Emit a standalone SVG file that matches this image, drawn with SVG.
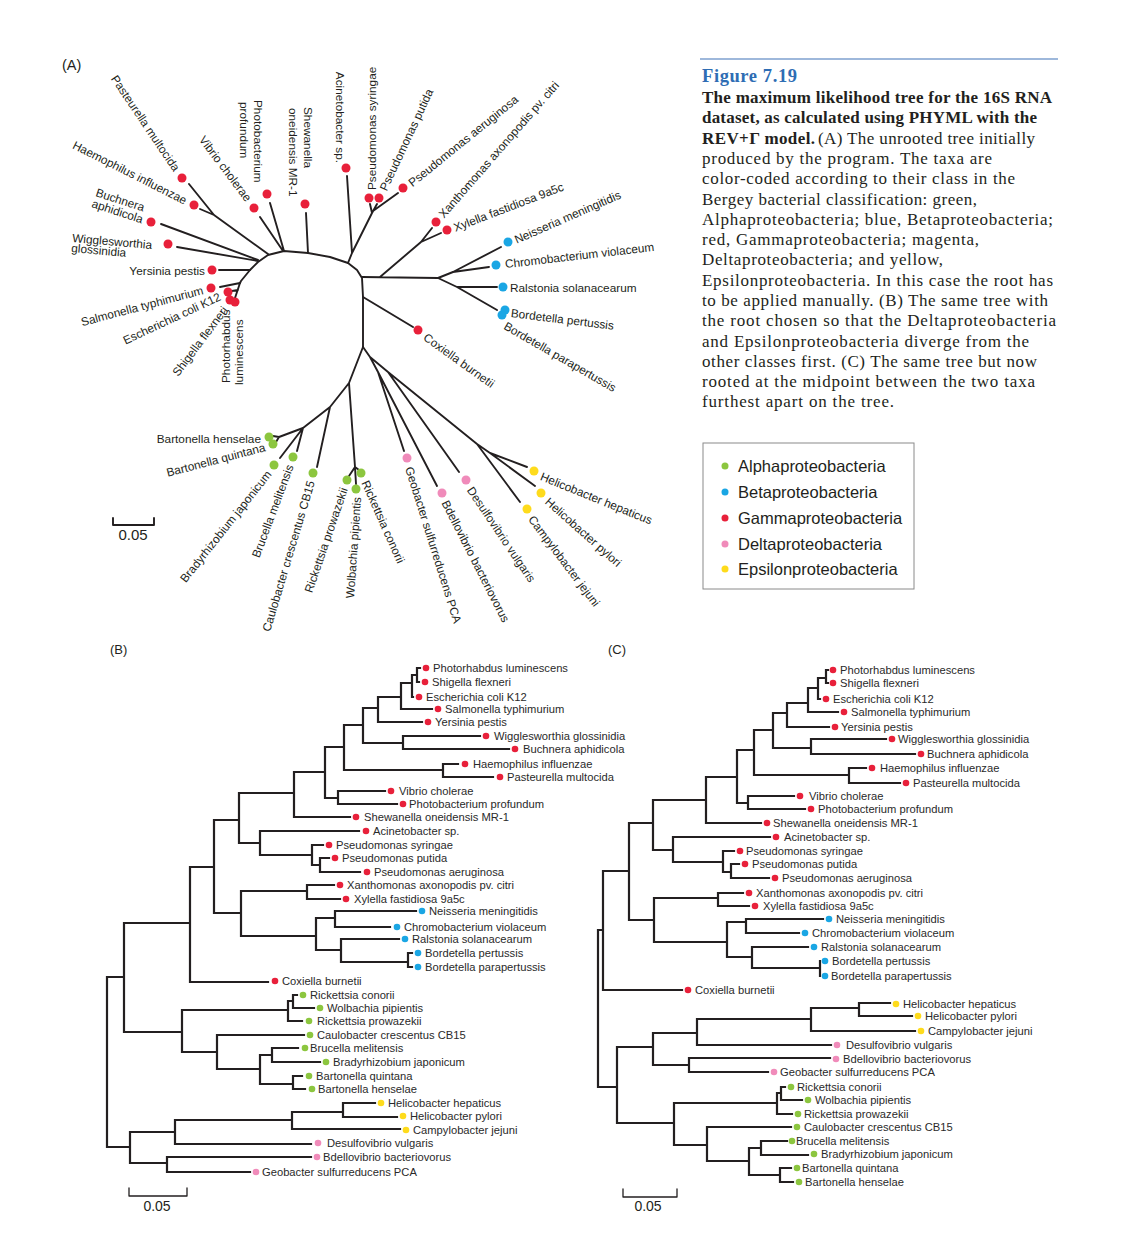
<svg xmlns="http://www.w3.org/2000/svg" width="1132" height="1240" viewBox="0 0 1132 1240">
<style>
.e{fill:none;stroke:#231f20;stroke-width:2.2;stroke-linecap:square}
.ea{fill:none;stroke:#231f20;stroke-width:1.9;stroke-linecap:round;stroke-linejoin:round}
.t{font-family:"Liberation Sans",Arial,sans-serif;font-size:11.2px;fill:#2a2a2a}
.ta{font-family:"Liberation Sans",Arial,sans-serif;font-size:11.8px;fill:#231f20}
.pl{font-family:"Liberation Sans",Arial,sans-serif;font-size:14px;fill:#231f20}
.lg{font-family:"Liberation Sans",Arial,sans-serif;font-size:16.5px;fill:#231f20}
.cb{font-family:"Liberation Serif","Times New Roman",serif;font-size:17px;font-weight:bold;fill:#231f20}
.cr{font-family:"Liberation Serif","Times New Roman",serif;font-size:17px;fill:#231f20}
.ti{font-family:"Liberation Serif","Times New Roman",serif;font-size:18.5px;font-weight:bold;fill:#2e6db4}
.r{fill:#e8203a}.b{fill:#1aa6e4}.g{fill:#8cc63f}.p{fill:#f08bba}.y{fill:#fedb1c}
</style>

<!-- ================= PANEL A ================= -->
<text class="pl" x="62" y="70" style="font-size:14.5px">(A)</text>
<g id="a-connectors">
<path class="ea" d="M240,283 L241,281 L250,270 L258,262 L268,255 L284,251 L308,253 L330,257 L348,263 L357,270 L362,278 L363,297 L363,347"/>
<path class="ea" d="M240,283 L220,287 M240,283 L235,298 M238,290 L232,291 M250,270 L219,270 M258,260 L161,224 M258,261 L177,247 M268,254 L214,215 L189,184 M214,215 L200,209 M283,251 L260,217 M284,251 L270,203 M308,253 L306,213"/>
<path class="ea" d="M348,263 L352,253 L347,176 M352,253 L372,213 M372,213 L370,204 M372,213 L377,204 M373,211 L398,193"/>
<path class="ea" d="M380,277 L421,242 L432,228 M421,242 L441,233 M362,277 L438,278 M438,278 L453,272 L501,247 M453,272 L489,267 M438,278 L457,287 L497,287 M457,287 L497,310 M363,297 L413,327"/>
<path class="ea" d="M363,347 L349,383 L355,467 M355,467 L359,470 M355,467 L356,484 M355,467 L349,476 M349,383 L330,407 L303,428 L279,437 M330,407 L317,467 M303,428 L297,451 M303,428 L280,458 M279,437 L273,436 M279,437 L276,442"/>
<path class="ea" d="M363,347 L370,357 L378,372 L404,451 M378,372 L437,486 M370,357 L388,372 L459,472 M388,372 L477,444 L520,502 M477,444 L490,453 L527,467 M490,453 L535,486"/>
</g>
<g id="a-pasteurella"><circle class="r" cx="182" cy="178" r="4.5"/><text class="ta" text-anchor="end" dy="0.35em" transform="translate(177,170) rotate(56)">Pasteurella multocida</text></g>
<g id="a-haemophilus"><circle class="r" cx="194" cy="205" r="4.5"/><text class="ta" text-anchor="end" dy="0.35em" transform="translate(186,201) rotate(26.8)">Haemophilus influenzae</text></g>
<g id="a-buchnera"><circle class="r" cx="151" cy="222" r="4.5"/><text class="ta" transform="translate(95,196) rotate(18)">Buchnera</text><text class="ta" transform="translate(91,207) rotate(18)">aphidicola</text></g>
<g id="a-wigglesworthia"><circle class="r" cx="168" cy="244" r="4.5"/><text class="ta" transform="translate(72,242) rotate(5)">Wigglesworthia</text><text class="ta" transform="translate(71,252) rotate(5)">glossinidia</text></g>
<g id="a-yersinia"><circle class="r" cx="212" cy="270" r="4.5"/><text class="ta" text-anchor="end" dy="0.35em" x="205" y="271">Yersinia pestis</text></g>
<g id="a-salmonella"><circle class="r" cx="211" cy="288" r="4.5"/><text class="ta" text-anchor="end" dy="0.35em" transform="translate(203,290) rotate(-14.8)">Salmonella typhimurium</text></g>
<g id="a-escherichia"><circle class="r" cx="228" cy="292" r="4.5"/><text class="ta" text-anchor="end" dy="0.35em" transform="translate(220,296) rotate(-25)">Escherichia coli K12</text></g>
<g id="a-shigella"><circle class="r" cx="230" cy="300" r="4.5"/><text class="ta" text-anchor="end" dy="0.35em" transform="translate(225,308) rotate(-53)">Shigella flexneri</text></g>
<g id="a-photorhabdus"><circle class="r" cx="235" cy="302" r="4.5"/><text class="ta" transform="translate(230,383) rotate(-90)">Photorhabdus</text><text class="ta" transform="translate(243,385) rotate(-90)">luminescens</text></g>
<g id="a-vibrio"><circle class="r" cx="254" cy="208" r="4.5"/><text class="ta" text-anchor="end" dy="0.35em" transform="translate(249,200) rotate(53)">Vibrio cholerae</text></g>
<g id="a-photobacterium"><circle class="r" cx="267" cy="194" r="4.5"/><text class="ta" transform="translate(254,100) rotate(90)">Photobacterium</text><text class="ta" transform="translate(240,102) rotate(90)">profundum</text></g>
<g id="a-shewanella"><circle class="r" cx="305" cy="204" r="4.5"/><text class="ta" transform="translate(304,107) rotate(90)">Shewanella</text><text class="ta" transform="translate(289,108) rotate(90)">oneidensis MR-1</text></g>
<g id="a-acinetobacter"><circle class="r" cx="346" cy="168" r="4.5"/><text class="ta" text-anchor="end" dy="0.35em" transform="translate(340,163) rotate(90)">Acinetobacter sp.</text></g>
<g id="a-psyringae"><circle class="r" cx="369" cy="198" r="4.5"/><text class="ta" dy="0.35em" transform="translate(372,190) rotate(-90)">Pseudomonas syringae</text></g>
<g id="a-pputida"><circle class="r" cx="379" cy="198" r="4.5"/><text class="ta" dy="0.35em" transform="translate(383,190) rotate(-65)">Pseudomonas putida</text></g>
<g id="a-paeruginosa"><circle class="r" cx="403" cy="188" r="4.5"/><text class="ta" dy="0.35em" transform="translate(410,184) rotate(-39)">Pseudomonas aeruginosa</text></g>
<g id="a-xanthomonas"><circle class="r" cx="436" cy="222" r="4.5"/><text class="ta" dy="0.35em" transform="translate(441,216) rotate(-49)">Xanthomonas axonopodis pv. citri</text></g>
<g id="a-xylella"><circle class="r" cx="447" cy="230" r="4.5"/><text class="ta" dy="0.35em" transform="translate(454,228) rotate(-21)">Xylella fastidiosa 9a5c</text></g>
<g id="a-neisseria"><circle class="b" cx="508" cy="242" r="4.5"/><text class="ta" dy="0.35em" transform="translate(515,240) rotate(-23.6)">Neisseria meningitidis</text></g>
<g id="a-chromobacterium"><circle class="b" cx="496" cy="265" r="4.5"/><text class="ta" dy="0.35em" transform="translate(505,264) rotate(-6.6)">Chromobacterium violaceum</text></g>
<g id="a-ralstonia"><circle class="b" cx="503" cy="287" r="4.5"/><text class="ta" dy="0.35em" x="510" y="288">Ralstonia solanacearum</text></g>
<g id="a-bpertussis"><circle class="b" cx="505" cy="310" r="4.5"/><text class="ta" dy="0.35em" transform="translate(511,313) rotate(7)">Bordetella pertussis</text></g>
<g id="a-bparapertussis"><circle class="b" cx="502" cy="315" r="4.5"/><text class="ta" dy="0.35em" transform="translate(505,325) rotate(30)">Bordetella parapertussis</text></g>
<g id="a-coxiella"><circle class="r" cx="418" cy="330" r="4.5"/><text class="ta" dy="0.35em" transform="translate(425,336) rotate(35.6)">Coxiella burnetii</text></g>
<g id="a-hhepaticus"><circle class="y" cx="534" cy="471" r="4.5"/><text class="ta" dy="0.35em" transform="translate(541,476) rotate(22)">Helicobacter hepaticus</text></g>
<g id="a-hpylori"><circle class="y" cx="541" cy="493" r="4.5"/><text class="ta" dy="0.35em" transform="translate(547,500) rotate(41.5)">Helicobacter pylori</text></g>
<g id="a-campylobacter"><circle class="y" cx="527" cy="509" r="4.5"/><text class="ta" dy="0.35em" transform="translate(531,517) rotate(53)">Campylobacter jejuni</text></g>
<g id="a-desulfovibrio"><circle class="p" cx="466" cy="480" r="4.5"/><text class="ta" dy="0.35em" transform="translate(470,488) rotate(56)">Desulfovibrio vulgaris</text></g>
<g id="a-bdellovibrio"><circle class="p" cx="442" cy="493" r="4.5"/><text class="ta" dy="0.35em" transform="translate(445,501) rotate(63)">Bdellovibrio bacteriovorus</text></g>
<g id="a-geobacter"><circle class="p" cx="407" cy="458" r="4.5"/><text class="ta" dy="0.35em" transform="translate(409,467) rotate(72.6)">Geobacter sulfurreducens PCA</text></g>
<g id="a-rconorii"><circle class="g" cx="361" cy="473" r="4.5"/><text class="ta" dy="0.35em" transform="translate(365,481) rotate(66)">Rickettsia conorii</text></g>
<g id="a-wolbachia"><circle class="g" cx="356" cy="489" r="4.5"/><text class="ta" text-anchor="end" dy="0.35em" transform="translate(357,497) rotate(-86)">Wolbachia pipientis</text></g>
<g id="a-rprowazekii"><circle class="g" cx="347" cy="480" r="4.5"/><text class="ta" text-anchor="end" dy="0.35em" transform="translate(344,488) rotate(-71)">Rickettsia prowazekii</text></g>
<g id="a-caulobacter"><circle class="g" cx="313" cy="473" r="4.5"/><text class="ta" text-anchor="end" dy="0.35em" transform="translate(311,481) rotate(-73.3)">Caulobacter crescentus CB15</text></g>
<g id="a-brucella"><circle class="g" cx="293" cy="457" r="4.5"/><text class="ta" text-anchor="end" dy="0.35em" transform="translate(290,465) rotate(-69.4)">Brucella melitensis</text></g>
<g id="a-bradyrhizobium"><circle class="g" cx="274" cy="465" r="4.5"/><text class="ta" text-anchor="end" dy="0.35em" transform="translate(269,472) rotate(-51.5)">Bradyrhizobium japonicum</text></g>
<g id="a-bquintana"><circle class="g" cx="273" cy="444" r="4.5"/><text class="ta" text-anchor="end" dy="0.35em" transform="translate(265,447) rotate(-14.7)">Bartonella quintana</text></g>
<g id="a-bhenselae"><circle class="g" cx="269" cy="437" r="4.5"/><text class="ta" text-anchor="end" dy="0.35em" x="261" y="439">Bartonella henselae</text></g>
<g id="a-scale"><path class="ea" d="M113,518 V525 H154 V518"/><text class="pl" x="133" y="540" text-anchor="middle" style="font-size:15px">0.05</text></g>

<!-- ================= CAPTION ================= -->
<g id="caption">
<line x1="700" y1="59" x2="1058" y2="59" stroke="#3e72b8" stroke-width="1.2"/>
<text class="ti" x="702" y="82" textLength="95" lengthAdjust="spacing">Figure 7.19</text>
<text class="cb" x="702" y="103" textLength="350" lengthAdjust="spacing">The maximum likelihood tree for the 16S RNA</text>
<text class="cb" x="702" y="123" textLength="335" lengthAdjust="spacing">dataset, as calculated using PHYML with the</text>
<text class="cb" x="702" y="144" textLength="113" lengthAdjust="spacing">REV+Γ model.</text>
<text class="cr" x="818" y="144" textLength="217" lengthAdjust="spacing">(A) The unrooted tree initially</text>
<text class="cr" x="702" y="164" textLength="290" lengthAdjust="spacing">produced by the program. The taxa are</text>
<text class="cr" x="702" y="184" textLength="313" lengthAdjust="spacing">color-coded according to their class in the</text>
<text class="cr" x="702" y="205" textLength="275" lengthAdjust="spacing">Bergey bacterial classification: green,</text>
<text class="cr" x="702" y="225" textLength="351" lengthAdjust="spacing">Alphaproteobacteria; blue, Betaproteobacteria;</text>
<text class="cr" x="702" y="245" textLength="277" lengthAdjust="spacing">red, Gammaproteobacteria; magenta,</text>
<text class="cr" x="702" y="265" textLength="241" lengthAdjust="spacing">Deltaproteobacteria; and yellow,</text>
<text class="cr" x="702" y="286" textLength="351" lengthAdjust="spacing">Epsilonproteobacteria. In this case the root has</text>
<text class="cr" x="702" y="306" textLength="346" lengthAdjust="spacing">to be applied manually. (B) The same tree with</text>
<text class="cr" x="702" y="326" textLength="354" lengthAdjust="spacing">the root chosen so that the Deltaproteobacteria</text>
<text class="cr" x="702" y="347" textLength="327" lengthAdjust="spacing">and Epsilonproteobacteria diverge from the</text>
<text class="cr" x="702" y="367" textLength="335" lengthAdjust="spacing">other classes first. (C) The same tree but now</text>
<text class="cr" x="702" y="387" textLength="333" lengthAdjust="spacing">rooted at the midpoint between the two taxa</text>
<text class="cr" x="702" y="407" textLength="192" lengthAdjust="spacing">furthest apart on the tree.</text>
</g>

<!-- ================= LEGEND ================= -->
<g id="legend">
<rect x="703" y="443" width="211" height="146" fill="#fff" stroke="#8a8a8a" stroke-width="1"/>
<circle class="g" cx="725" cy="466" r="3.5"/><text class="lg" x="738" y="472">Alphaproteobacteria</text>
<circle class="b" cx="725" cy="492" r="3.5"/><text class="lg" x="738" y="498">Betaproteobacteria</text>
<circle class="r" cx="725" cy="518" r="3.5"/><text class="lg" x="738" y="524">Gammaproteobacteria</text>
<circle class="p" cx="725" cy="544" r="3.5"/><text class="lg" x="738" y="550">Deltaproteobacteria</text>
<circle class="y" cx="725" cy="569" r="3.5"/><text class="lg" x="738" y="575">Epsilonproteobacteria</text>
</g>

<!-- ================= PANEL B ================= -->
<text class="pl" x="110" y="654" style="font-size:13px">(B)</text>
<g id="b-connectors">
<path class="e" d="M107,977V1147 M107,977H124 M107,1147H130
M124,923V1032 M124,923H190 M124,1032H182
M190,867V982 M190,867H214 M190,982H268
M214,820V913 M214,820H239 M214,913H241
M239,793V843 M239,793H294 M239,843H260
M294,772V817 M294,772H325 M294,817H350
M260,831V855 M260,831H359 M260,855H312
M312,845V865 M312,845H323 M312,865H320
M320,858V872 M320,858H329 M320,872H360
M241,891V936 M241,891H307 M241,936H316
M307,885V899 M307,885H334 M307,899H340
M316,918V950 M316,918H335 M316,950H341
M335,911V927 M335,911H416 M335,927H390
M341,939V962 M341,939H399 M341,962H408
M408,953V967 M408,953H412 M408,967H412
M325,747V798 M325,747H344 M325,798H338
M338,791V804 M338,791H385 M338,804H397
M344,725V770 M344,725H363 M344,770H443
M443,764V777 M443,764H458 M443,777H493
M363,708V743 M363,708H378 M363,743H403
M403,736V749 M403,736H480 M403,749H509
M378,697V722 M378,697H401 M378,722H422
M401,683V709 M401,683H412 M401,709H432
M412,675V697 M412,675H417 M412,697H413
M417,668V682 M417,668H420 M417,682H419
M182,1010V1052 M182,1010H288 M182,1052H217
M288,1001V1021 M288,1001H293 M288,1021H302
M293,995V1008 M293,995H297 M293,1008H314
M217,1035V1069 M217,1035H304 M217,1069H260
M260,1055V1084 M260,1055H272 M260,1084H293
M272,1048V1062 M272,1048H298 M272,1062H320
M293,1076V1089 M293,1076H302 M293,1089H305
M130,1132V1163 M130,1132H175 M130,1163H167
M175,1120V1144 M175,1120H292 M175,1144H311
M292,1112V1129 M292,1112H343 M292,1129H400
M343,1103V1117 M343,1103H375 M343,1117H397
M167,1157V1172 M167,1157H311 M167,1172H250"/>
</g>
<g id="b-photorhabdus"><circle class="r" cx="426" cy="668" r="3.3"/><text class="t" x="433" y="672">Photorhabdus luminescens</text></g>
<g id="b-shigella"><circle class="r" cx="425" cy="682" r="3.3"/><text class="t" x="432" y="686">Shigella flexneri</text></g>
<g id="b-escherichia"><circle class="r" cx="419" cy="697" r="3.3"/><text class="t" x="426" y="701">Escherichia coli K12</text></g>
<g id="b-salmonella"><circle class="r" cx="438" cy="709" r="3.3"/><text class="t" x="445" y="713">Salmonella typhimurium</text></g>
<g id="b-yersinia"><circle class="r" cx="428" cy="722" r="3.3"/><text class="t" x="435" y="726">Yersinia pestis</text></g>
<g id="b-wigglesworthia"><circle class="r" cx="486" cy="736" r="3.3"/><text class="t" x="494" y="740">Wigglesworthia glossinidia</text></g>
<g id="b-buchnera"><circle class="r" cx="515" cy="749" r="3.3"/><text class="t" x="523" y="753">Buchnera aphidicola</text></g>
<g id="b-haemophilus"><circle class="r" cx="465" cy="764" r="3.3"/><text class="t" x="473" y="768">Haemophilus influenzae</text></g>
<g id="b-pasteurella"><circle class="r" cx="500" cy="777" r="3.3"/><text class="t" x="507" y="781">Pasteurella multocida</text></g>
<g id="b-vibrio"><circle class="r" cx="391" cy="791" r="3.3"/><text class="t" x="399" y="795">Vibrio cholerae</text></g>
<g id="b-photobacterium"><circle class="r" cx="403" cy="804" r="3.3"/><text class="t" x="409" y="808">Photobacterium profundum</text></g>
<g id="b-shewanella"><circle class="r" cx="356" cy="817" r="3.3"/><text class="t" x="364" y="821">Shewanella oneidensis MR-1</text></g>
<g id="b-acinetobacter"><circle class="r" cx="366" cy="831" r="3.3"/><text class="t" x="373" y="835">Acinetobacter sp.</text></g>
<g id="b-psyringae"><circle class="r" cx="329" cy="845" r="3.3"/><text class="t" x="336" y="849">Pseudomonas syringae</text></g>
<g id="b-pputida"><circle class="r" cx="335" cy="858" r="3.3"/><text class="t" x="342" y="862">Pseudomonas putida</text></g>
<g id="b-paeruginosa"><circle class="r" cx="367" cy="872" r="3.3"/><text class="t" x="374" y="876">Pseudomonas aeruginosa</text></g>
<g id="b-xanthomonas"><circle class="r" cx="340" cy="885" r="3.3"/><text class="t" x="347" y="889">Xanthomonas axonopodis pv. citri</text></g>
<g id="b-xylella"><circle class="r" cx="346" cy="899" r="3.3"/><text class="t" x="354" y="903">Xylella fastidiosa 9a5c</text></g>
<g id="b-neisseria"><circle class="b" cx="422" cy="911" r="3.3"/><text class="t" x="429" y="915">Neisseria meningitidis</text></g>
<g id="b-chromobacterium"><circle class="b" cx="397" cy="927" r="3.3"/><text class="t" x="404" y="931">Chromobacterium violaceum</text></g>
<g id="b-ralstonia"><circle class="b" cx="405" cy="939" r="3.3"/><text class="t" x="412" y="943">Ralstonia solanacearum</text></g>
<g id="b-bpertussis"><circle class="b" cx="418" cy="953" r="3.3"/><text class="t" x="425" y="957">Bordetella pertussis</text></g>
<g id="b-bparapertussis"><circle class="b" cx="418" cy="967" r="3.3"/><text class="t" x="425" y="971">Bordetella parapertussis</text></g>
<g id="b-coxiella"><circle class="r" cx="275" cy="981" r="3.3"/><text class="t" x="282" y="985">Coxiella burnetii</text></g>
<g id="b-rconorii"><circle class="g" cx="303" cy="995" r="3.3"/><text class="t" x="310" y="999">Rickettsia conorii</text></g>
<g id="b-wolbachia"><circle class="g" cx="320" cy="1008" r="3.3"/><text class="t" x="327" y="1012">Wolbachia pipientis</text></g>
<g id="b-rprowazekii"><circle class="g" cx="309" cy="1021" r="3.3"/><text class="t" x="317" y="1025">Rickettsia prowazekii</text></g>
<g id="b-caulobacter"><circle class="g" cx="310" cy="1035" r="3.3"/><text class="t" x="317" y="1039">Caulobacter crescentus CB15</text></g>
<g id="b-brucella"><circle class="g" cx="305" cy="1048" r="3.3"/><text class="t" x="310" y="1052">Brucella melitensis</text></g>
<g id="b-bradyrhizobium"><circle class="g" cx="326" cy="1062" r="3.3"/><text class="t" x="333" y="1066">Bradyrhizobium japonicum</text></g>
<g id="b-bquintana"><circle class="g" cx="309" cy="1076" r="3.3"/><text class="t" x="316" y="1080">Bartonella quintana</text></g>
<g id="b-bhenselae"><circle class="g" cx="312" cy="1089" r="3.3"/><text class="t" x="318" y="1093">Bartonella henselae</text></g>
<g id="b-hhepaticus"><circle class="y" cx="381" cy="1103" r="3.3"/><text class="t" x="388" y="1107">Helicobacter hepaticus</text></g>
<g id="b-hpylori"><circle class="y" cx="403" cy="1116" r="3.3"/><text class="t" x="410" y="1120">Helicobacter pylori</text></g>
<g id="b-campylobacter"><circle class="y" cx="406" cy="1130" r="3.3"/><text class="t" x="413" y="1134">Campylobacter jejuni</text></g>
<g id="b-desulfovibrio"><circle class="p" cx="318" cy="1143" r="3.3"/><text class="t" x="327" y="1147">Desulfovibrio vulgaris</text></g>
<g id="b-bdellovibrio"><circle class="p" cx="317" cy="1157" r="3.3"/><text class="t" x="323" y="1161">Bdellovibrio bacteriovorus</text></g>
<g id="b-geobacter"><circle class="p" cx="256" cy="1172" r="3.3"/><text class="t" x="262" y="1176">Geobacter sulfurreducens PCA</text></g>
<g id="b-scale"><path class="ea" d="M129,1188 V1196 H187 V1188" style="stroke-width:1.3"/><text class="pl" x="157" y="1211" text-anchor="middle">0.05</text></g>

<!-- ================= PANEL C ================= -->
<text class="pl" x="608" y="654" style="font-size:13px">(C)</text>
<g id="c-connectors">
<path class="e" d="M598,930V1087 M598,930H603 M598,1087H617
M603,871V990 M603,871H629 M603,990H682
M629,823V920 M629,823H653 M629,920H654
M653,800V850 M653,800H706 M653,850H673
M706,777V823 M706,777H737 M706,823H761
M737,750V803 M737,750H754 M737,803H748
M748,796V809 M748,796H794 M748,809H805
M754,730V775 M754,730H773 M754,775H849
M849,768V783 M849,768H866 M849,783H900
M773,713V748 M773,713H787 M773,748H811
M811,739V754 M811,739H886 M811,754H915
M787,703V727 M787,703H808 M787,727H829
M808,688V712 M808,688H818 M808,712H838
M818,678V699 M818,678H826 M818,699H820
M826,670V683 M826,670H828 M826,683H828
M673,837V862 M673,837H770 M673,862H723
M723,851V872 M723,851H734 M723,872H731
M731,864V878 M731,864H739 M731,878H769
M654,898V942 M654,898H718 M654,942H727
M718,893V906 M718,893H743 M718,906H749
M727,922V957 M727,922H746 M727,957H752
M746,919V933 M746,919H823 M746,933H799
M752,947V968 M752,947H808 M752,968H820
M820,961V976
M617,1047V1123 M617,1047H653 M617,1123H674
M653,1033V1065 M653,1033H697 M653,1065H689
M697,1019V1045 M697,1019H811 M697,1045H831
M811,1008V1031 M811,1008H859 M811,1031H915
M859,1003V1016 M859,1003H890 M859,1016H912
M689,1058V1072 M689,1058H830 M689,1072H768
M674,1103V1145 M674,1103H777 M674,1145H707
M777,1093V1114 M777,1093H781 M777,1114H792
M781,1087V1100 M781,1087H785 M781,1100H802
M707,1127V1161 M707,1127H791 M707,1161H749
M749,1148V1175 M749,1148H761 M749,1175H780
M761,1141V1155 M761,1141H787 M761,1155H808
M780,1168V1182 M780,1168H791 M780,1182H793"/>
</g>
<g id="c-photorhabdus"><circle class="r" cx="833" cy="670" r="3.3"/><text class="t" x="840" y="674">Photorhabdus luminescens</text></g>
<g id="c-shigella"><circle class="r" cx="833" cy="683" r="3.3"/><text class="t" x="840" y="687">Shigella flexneri</text></g>
<g id="c-escherichia"><circle class="r" cx="826" cy="699" r="3.3"/><text class="t" x="833" y="703">Escherichia coli K12</text></g>
<g id="c-salmonella"><circle class="r" cx="844" cy="712" r="3.3"/><text class="t" x="851" y="716">Salmonella typhimurium</text></g>
<g id="c-yersinia"><circle class="r" cx="835" cy="727" r="3.3"/><text class="t" x="841" y="731">Yersinia pestis</text></g>
<g id="c-wigglesworthia"><circle class="r" cx="892" cy="739" r="3.3"/><text class="t" x="898" y="743">Wigglesworthia glossinidia</text></g>
<g id="c-buchnera"><circle class="r" cx="921" cy="754" r="3.3"/><text class="t" x="927" y="758">Buchnera aphidicola</text></g>
<g id="c-haemophilus"><circle class="r" cx="872" cy="768" r="3.3"/><text class="t" x="880" y="772">Haemophilus influenzae</text></g>
<g id="c-pasteurella"><circle class="r" cx="906" cy="783" r="3.3"/><text class="t" x="913" y="787">Pasteurella multocida</text></g>
<g id="c-vibrio"><circle class="r" cx="800" cy="796" r="3.3"/><text class="t" x="809" y="800">Vibrio cholerae</text></g>
<g id="c-photobacterium"><circle class="r" cx="811" cy="809" r="3.3"/><text class="t" x="818" y="813">Photobacterium profundum</text></g>
<g id="c-shewanella"><circle class="r" cx="767" cy="823" r="3.3"/><text class="t" x="773" y="827">Shewanella oneidensis MR-1</text></g>
<g id="c-acinetobacter"><circle class="r" cx="776" cy="837" r="3.3"/><text class="t" x="784" y="841">Acinetobacter sp.</text></g>
<g id="c-psyringae"><circle class="r" cx="740" cy="851" r="3.3"/><text class="t" x="746" y="855">Pseudomonas syringae</text></g>
<g id="c-pputida"><circle class="r" cx="745" cy="864" r="3.3"/><text class="t" x="752" y="868">Pseudomonas putida</text></g>
<g id="c-paeruginosa"><circle class="r" cx="775" cy="878" r="3.3"/><text class="t" x="782" y="882">Pseudomonas aeruginosa</text></g>
<g id="c-xanthomonas"><circle class="r" cx="749" cy="893" r="3.3"/><text class="t" x="756" y="897">Xanthomonas axonopodis pv. citri</text></g>
<g id="c-xylella"><circle class="r" cx="755" cy="906" r="3.3"/><text class="t" x="763" y="910">Xylella fastidiosa 9a5c</text></g>
<g id="c-neisseria"><circle class="b" cx="829" cy="919" r="3.3"/><text class="t" x="836" y="923">Neisseria meningitidis</text></g>
<g id="c-chromobacterium"><circle class="b" cx="805" cy="933" r="3.3"/><text class="t" x="812" y="937">Chromobacterium violaceum</text></g>
<g id="c-ralstonia"><circle class="b" cx="814" cy="947" r="3.3"/><text class="t" x="821" y="951">Ralstonia solanacearum</text></g>
<g id="c-bpertussis"><circle class="b" cx="825" cy="961" r="3.3"/><text class="t" x="832" y="965">Bordetella pertussis</text></g>
<g id="c-bparapertussis"><circle class="b" cx="825" cy="976" r="3.3"/><text class="t" x="831" y="980">Bordetella parapertussis</text></g>
<g id="c-coxiella"><circle class="r" cx="688" cy="990" r="3.3"/><text class="t" x="695" y="994">Coxiella burnetii</text></g>
<g id="c-hhepaticus"><circle class="y" cx="896" cy="1004" r="3.3"/><text class="t" x="903" y="1008">Helicobacter hepaticus</text></g>
<g id="c-hpylori"><circle class="y" cx="918" cy="1016" r="3.3"/><text class="t" x="925" y="1020">Helicobacter pylori</text></g>
<g id="c-campylobacter"><circle class="y" cx="921" cy="1031" r="3.3"/><text class="t" x="928" y="1035">Campylobacter jejuni</text></g>
<g id="c-desulfovibrio"><circle class="p" cx="837" cy="1045" r="3.3"/><text class="t" x="846" y="1049">Desulfovibrio vulgaris</text></g>
<g id="c-bdellovibrio"><circle class="p" cx="836" cy="1059" r="3.3"/><text class="t" x="843" y="1063">Bdellovibrio bacteriovorus</text></g>
<g id="c-geobacter"><circle class="p" cx="774" cy="1072" r="3.3"/><text class="t" x="780" y="1076">Geobacter sulfurreducens PCA</text></g>
<g id="c-rconorii"><circle class="g" cx="791" cy="1087" r="3.3"/><text class="t" x="797" y="1091">Rickettsia conorii</text></g>
<g id="c-wolbachia"><circle class="g" cx="808" cy="1100" r="3.3"/><text class="t" x="815" y="1104">Wolbachia pipientis</text></g>
<g id="c-rprowazekii"><circle class="g" cx="798" cy="1114" r="3.3"/><text class="t" x="804" y="1118">Rickettsia prowazekii</text></g>
<g id="c-caulobacter"><circle class="g" cx="797" cy="1127" r="3.3"/><text class="t" x="804" y="1131">Caulobacter crescentus CB15</text></g>
<g id="c-brucella"><circle class="g" cx="792" cy="1141" r="3.3"/><text class="t" x="796" y="1145">Brucella melitensis</text></g>
<g id="c-bradyrhizobium"><circle class="g" cx="814" cy="1154" r="3.3"/><text class="t" x="821" y="1158">Bradyrhizobium japonicum</text></g>
<g id="c-bquintana"><circle class="g" cx="797" cy="1168" r="3.3"/><text class="t" x="802" y="1172">Bartonella quintana</text></g>
<g id="c-bhenselae"><circle class="g" cx="799" cy="1182" r="3.3"/><text class="t" x="805" y="1186">Bartonella henselae</text></g>
<g id="c-scale"><path class="ea" d="M623,1189 V1197 H677 V1189" style="stroke-width:1.3"/><text class="pl" x="648" y="1211" text-anchor="middle">0.05</text></g>
</svg>
